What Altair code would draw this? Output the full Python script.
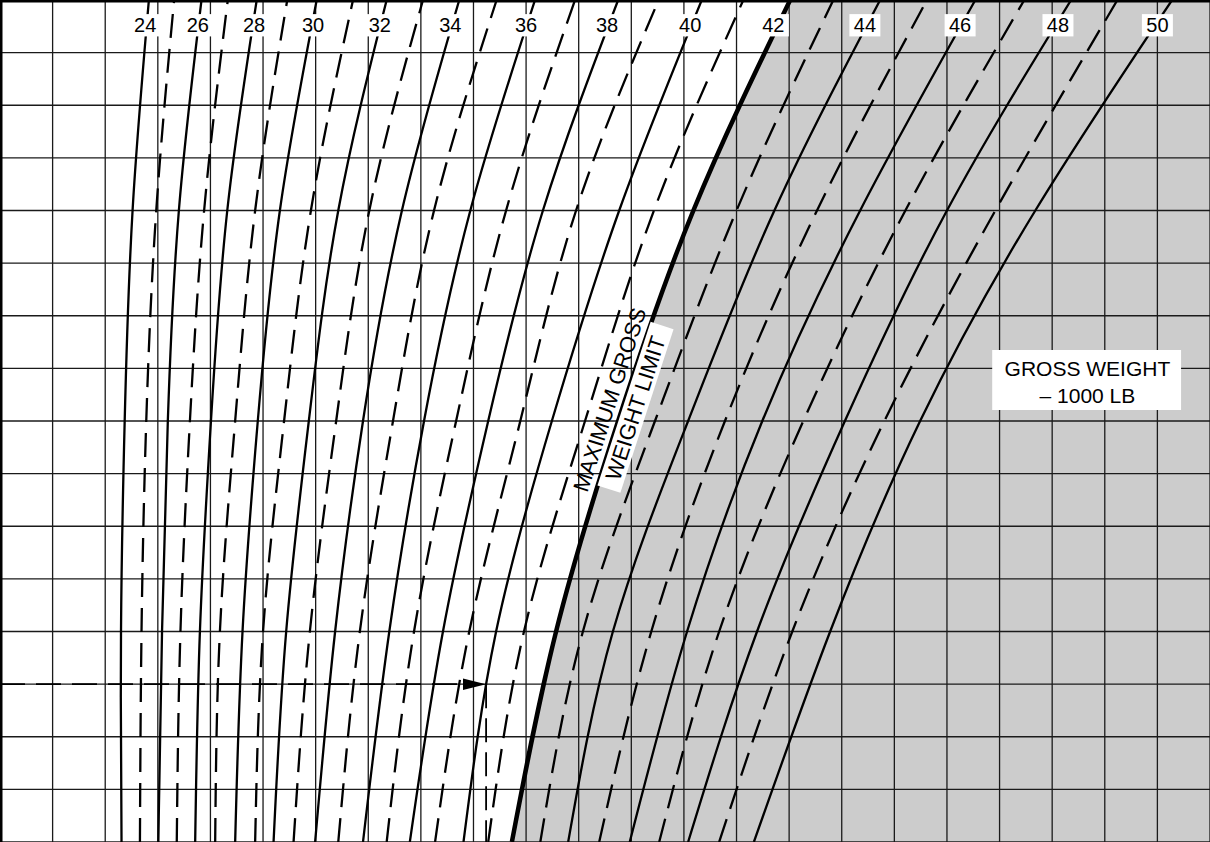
import altair as alt
import pandas as pd

# ---------------- data (grid units: 1 unit = one grid cell) ----------------
weights = list(range(24, 51))          # gross weight, 1000 lb
levels = [16, 12, 8, 4, 0]             # horizontal grid lines where curves were read (top -> bottom)

# x position of every curve at each reading level
x_lvl16 = [2.83, 3.31, 3.83, 4.33, 4.88, 5.46, 6.02, 6.71, 7.35, 8.04, 8.73, 9.44, 10.17, 10.93,
           11.75, 12.52, 13.34, 14.13, 15.02, 15.84, 16.73, 17.62, 18.54, 19.47, 20.36, 21.24, 22.28]
x_lvl12 = [2.52, 2.97, 3.40, 3.88, 4.32, 4.85, 5.32, 5.91, 6.43, 7.02, 7.64, 8.25, 8.94, 9.62,
           10.32, 10.95, 11.77, 12.43, 13.18, 14.00, 14.72, 15.53, 16.35, 17.21, 18.00, 18.92, 19.68]
x_lvl8 = [2.37, 2.78, 3.19, 3.61, 4.01, 4.47, 4.90, 5.40, 5.87, 6.39, 6.90, 7.47, 8.06, 8.67,
          9.28, 9.89, 10.49, 11.12, 11.75, 12.45, 13.08, 13.78, 14.49, 15.27, 16.06, 16.81, 17.49]
x_lvl4 = [2.30, 2.69, 3.08, 3.43, 3.80, 4.18, 4.61, 5.00, 5.44, 5.89, 6.37, 6.84, 7.40, 7.87,
          8.42, 8.92, 9.43, 9.96, 10.57, 11.08, 11.65, 12.38, 13.06, 13.67, 14.39, 15.06, 15.78]
x_lvl0 = [2.31, 2.66, 3.01, 3.36, 3.71, 4.09, 4.47, 4.85, 5.20, 5.58, 5.99, 6.43, 6.90, 7.35,
          7.79, 8.27, 8.81, 9.28, 9.73, 10.27, 10.80, 11.39, 11.97, 12.53, 13.08, 13.67, 14.33]

limit_weight = 42                       # maximum gross weight limit curve

label_weights = [24, 26, 28, 30, 32, 34, 36, 38, 40, 42, 44, 46, 48, 50]
label_x = [2.76, 3.76, 4.83, 5.95, 7.22, 8.56, 10.0, 11.54, 13.12, 14.70, 16.44, 18.25, 20.11, 22.0]
label_level = 15.52

grid_x = list(range(1, 24))
grid_y = list(range(0, 16))

XMAX, YMAX = 23, 16

# example entry arrow
arrow_level = 3
arrow_base_x = 8.80
arrow_tip_x = 9.24
arrow_head_x = 9.02

# ---------------- build tables ----------------
rows = []
cols = [x_lvl16, x_lvl12, x_lvl8, x_lvl4, x_lvl0]
for i, w in enumerate(weights):
    for lv, col in zip(levels, cols):
        rows.append({"weight": w, "level": lv, "x": col[i],
                     "style": "limit" if w == limit_weight else ("solid" if w % 2 == 0 else "dashed")})
curves = pd.DataFrame(rows)
curves["xr"] = XMAX

labels = pd.DataFrame({"weight": [str(w) for w in label_weights], "x": label_x,
                       "level": [label_level] * len(label_x)})

xs = alt.Scale(domain=[0, XMAX], nice=False, zero=False)
ys = alt.Scale(domain=[0, YMAX], nice=False, zero=False)

FONT = "Liberation Sans"


def X(f):
    return alt.X(f, scale=xs, axis=None)


def Y(f):
    return alt.Y(f, scale=ys, axis=None)


def one(**kw):
    return pd.DataFrame({k: [v] for k, v in kw.items()})


shade = alt.Chart(curves[curves["style"] == "limit"]).mark_area(
    orient="horizontal", interpolate="natural", color="#cccccc").encode(
    y=Y("level:Q"), x=X("x:Q"), x2="xr:Q")

vgrid = alt.Chart(pd.DataFrame({"g": grid_x, "y0": 0, "y1": YMAX})).mark_rule(
    color="#1a1a1a", strokeWidth=1.3).encode(x=X("g:Q"), y=Y("y0:Q"), y2="y1:Q")
hgrid = alt.Chart(pd.DataFrame({"g": grid_y, "x0": 0, "x1": XMAX})).mark_rule(
    color="#1a1a1a", strokeWidth=1.3).encode(y=Y("g:Q"), x=X("x0:Q"), x2="x1:Q")


def curve_layer(style, **kw):
    return alt.Chart(curves[curves["style"] == style]).mark_line(
        interpolate="natural", color="black", **kw).encode(
        x=X("x:Q"), y=Y("level:Q"), detail="weight:N", order="level:Q")


solid = curve_layer("solid", strokeWidth=2.3)
dashed = curve_layer("dashed", strokeWidth=2.3, strokeDash=[24, 11])
limit = curve_layer("limit", strokeWidth=4.5)

arrow_h = alt.Chart(one(x0=0, x1=arrow_base_x, y=arrow_level)).mark_rule(
    color="black", strokeWidth=1.8, strokeDash=[25, 11]).encode(
    x=X("x0:Q"), x2="x1:Q", y=Y("y:Q"))
arrow_v = alt.Chart(one(x=arrow_tip_x, y0=arrow_level, y1=0)).mark_rule(
    color="black", strokeWidth=1.8, strokeDash=[24, 10]).encode(
    x=X("x:Q"), y=Y("y0:Q"), y2="y1:Q")
arrow_head = alt.Chart(one(x=arrow_head_x, y=arrow_level)).mark_point(
    shape="M-1,-0.5L1,0L-1,0.5Z", size=529, filled=True, color="black", opacity=1).encode(
    x=X("x:Q"), y=Y("y:Q"))

lab_box = alt.Chart(labels).mark_point(
    shape="M-1,-0.72L1,-0.72L1,0.72L-1,0.72Z", size=31 * 31, filled=True, color="white", opacity=1).encode(
    x=X("x:Q"), y=Y("level:Q"))
lab_txt = alt.Chart(labels).mark_text(
    font=FONT, fontSize=20, color="black", align="center", baseline="middle", dy=1).encode(
    x=X("x:Q"), y=Y("level:Q"), text="weight:N")

gw_box = alt.Chart(one(x0=18.86, x1=22.45, y0=9.35, y1=8.21)).mark_rect(color="white").encode(
    x=X("x0:Q"), x2="x1:Q", y=Y("y0:Q"), y2="y1:Q")
gw_t1 = alt.Chart(one(t="GROSS WEIGHT", x=20.67, y=8.97)).mark_text(
    font=FONT, fontSize=21, align="center", baseline="middle", color="black").encode(
    x=X("x:Q"), y=Y("y:Q"), text="t:N")
gw_t2 = alt.Chart(one(t="– 1000 LB", x=20.67, y=8.46)).mark_text(
    font=FONT, fontSize=21, align="center", baseline="middle", color="black").encode(
    x=X("x:Q"), y=Y("y:Q"), text="t:N")

lim_box = alt.Chart(one(x=12.08, y=8.26)).mark_point(
    shape="M-1,-0.14L1,-0.14L1,0.14L-1,0.14Z", size=172 * 172, filled=True, color="white",
    opacity=1, angle=288).encode(x=X("x:Q"), y=Y("y:Q"))
lim_t1 = alt.Chart(one(t="MAXIMUM GROSS", x=11.60, y=8.40)).mark_text(
    font=FONT, fontSize=22, angle=288, align="center", baseline="middle", color="black").encode(
    x=X("x:Q"), y=Y("y:Q"), text="t:N")
lim_t2 = alt.Chart(one(t="WEIGHT LIMIT", x=12.09, y=8.24)).mark_text(
    font=FONT, fontSize=22, angle=288, align="center", baseline="middle", color="black").encode(
    x=X("x:Q"), y=Y("y:Q"), text="t:N")

border_l = alt.Chart(one(x=0, y0=0, y1=YMAX)).mark_rule(color="black", strokeWidth=5).encode(
    x=X("x:Q"), y=Y("y0:Q"), y2="y1:Q")
border_t = alt.Chart(one(y=YMAX, x0=0, x1=XMAX)).mark_rule(color="black", strokeWidth=5).encode(
    y=Y("y:Q"), x=X("x0:Q"), x2="x1:Q")

chart = alt.layer(
    shade, vgrid, hgrid, solid, dashed, limit,
    arrow_h, arrow_v, arrow_head,
    lab_box, lab_txt, gw_box, gw_t1, gw_t2,
    lim_box, lim_t1, lim_t2, border_l, border_t
).properties(width=1210, height=842, padding=0, autosize="none", background="white"
).configure_view(stroke=None)

chart.save("out.html", embed_options={"renderer": "svg", "actions": False})
